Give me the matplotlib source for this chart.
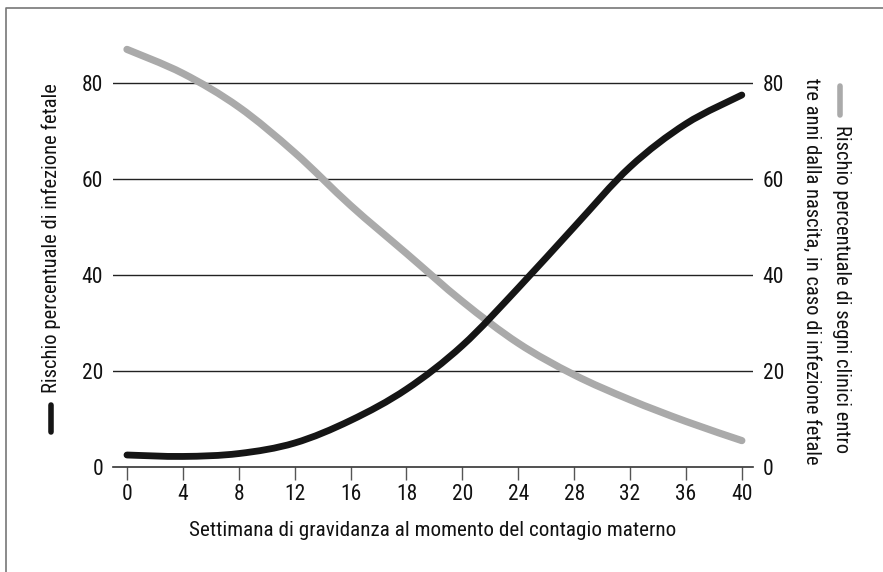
import matplotlib
matplotlib.use("Agg")
import matplotlib.pyplot as plt
from matplotlib.lines import Line2D
from matplotlib.path import Path
from matplotlib.patches import PathPatch

plt.rcParams['font.family'] = ['Roboto Condensed', 'Liberation Sans Narrow', 'DejaVu Sans']
plt.rcParams['font.stretch'] = 'condensed'

# Settimane (etichette dell'asse x, equispaziate)
settimane = ['0', '4', '8', '12', '16', '18', '20', '24', '28', '32', '36', '40']

# Rischio di infezione fetale (%)
rischio_infezione = [2.5, 2.2, 2.8, 5.0, 9.7, 16.2, 25.3, 37.3, 50.0, 62.5, 71.5, 77.5]

# Rischio di segni clinici entro tre anni (%)
rischio_segni = [87.0, 82.0, 75.0, 65.5, 54.5, 44.5, 34.5, 25.8, 19.2, 14.0, 9.5, 5.5]

yticks = [0, 20, 40, 60, 80]


def curva_liscia(xs, ys):
    # curva di Bezier (Catmull-Rom) che passa per i punti dati
    verts = [(xs[0], ys[0])]
    codes = [Path.MOVETO]
    n = len(xs)
    for i in range(n - 1):
        x0, y0 = (xs[i - 1], ys[i - 1]) if i > 0 else (xs[i], ys[i])
        x1, y1 = xs[i], ys[i]
        x2, y2 = xs[i + 1], ys[i + 1]
        x3, y3 = (xs[i + 2], ys[i + 2]) if i + 2 < n else (x2, y2)
        c1 = (x1 + (x2 - x0) / 6, y1 + (y2 - y0) / 6)
        c2 = (x2 - (x3 - x1) / 6, y2 - (y3 - y1) / 6)
        verts += [c1, c2, (x2, y2)]
        codes += [Path.CURVE4] * 3
    return Path(verts, codes)


W, H = 883, 572
fig = plt.figure(figsize=(W / 100, H / 100), dpi=100)
ax = fig.add_axes([113 / W, 1 - 467 / H, 640 / W, 432 / H])

x = list(range(len(settimane)))
ax.add_patch(PathPatch(curva_liscia(x, rischio_segni), facecolor='none',
                       edgecolor='#aaaaaa', lw=5.2, capstyle='round',
                       joinstyle='round', zorder=3))
ax.add_patch(PathPatch(curva_liscia(x, rischio_infezione), facecolor='none',
                       edgecolor='#151515', lw=4.9, capstyle='round',
                       joinstyle='round', zorder=4))

ax.set_xlim(-0.25, 11.2)
ax.set_ylim(0, 90)
ax.set_xticks(x)
ax.set_xticklabels(settimane)
ax.set_yticks(yticks)

for v in yticks[1:]:
    ax.axhline(v, color='#222222', lw=1.0, zorder=1)

for s in ['left', 'right', 'top']:
    ax.spines[s].set_visible(False)
ax.spines['bottom'].set_color('#333333')
ax.spines['bottom'].set_linewidth(1.2)

ax.tick_params(axis='x', direction='out', length=9, width=1, color='#555555',
               labelsize=15.5, pad=3, labelcolor='#111111')
ax.tick_params(axis='y', length=0, labelsize=15.5, pad=7, labelleft=True,
               labelright=True, labelcolor='#111111')

ax.set_xlabel('Settimana di gravidanza al momento del contagio materno',
              fontsize=15.2, labelpad=12, color='#111111')

# Etichetta asse sinistro con barra nera
fig.text(51 / W, 1 - 393 / H, 'Rischio percentuale di infezione fetale',
         rotation=90, ha='center', va='bottom', fontsize=14.8, color='#111111')
fig.add_artist(Line2D([51 / W, 51 / W], [1 - 405 / H, 1 - 432 / H],
                      color='#151515', lw=4, solid_capstyle='round'))

# Etichetta asse destro con barra grigia
fig.text(841 / W, 1 - 125 / H, 'Rischio percentuale di segni clinici entro',
         rotation=-90, ha='center', va='top', fontsize=14.8, color='#111111')
fig.text(812 / W, 1 - 78 / H, 'tre anni dalla nascita, in caso di infezione fetale',
         rotation=-90, ha='center', va='top', fontsize=14.8, color='#111111')
fig.add_artist(Line2D([840 / W, 840 / W], [1 - 86 / H, 1 - 115 / H],
                      color='#aaaaaa', lw=4, solid_capstyle='round'))

# Cornice (solo lati superiore e sinistro visibili)
fig.add_artist(Line2D([6 / W, 6 / W, 1.0], [0.0, 1 - 8 / H, 1 - 8 / H],
                      color='#777777', lw=1.2))

fig.savefig('out.png', dpi=100)
